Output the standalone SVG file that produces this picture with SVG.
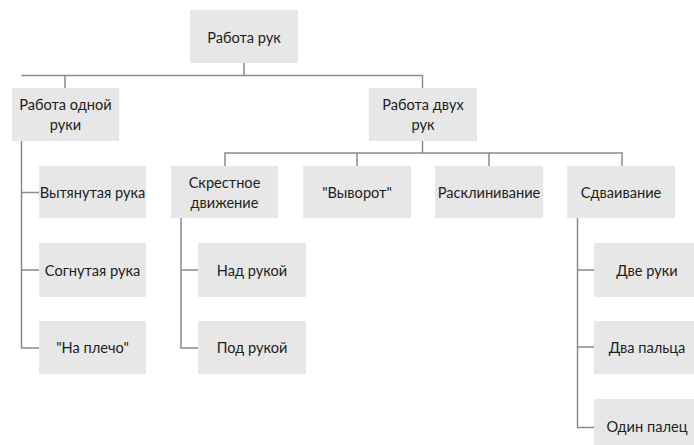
<svg xmlns="http://www.w3.org/2000/svg" width="694" height="445" viewBox="0 0 694 445">
<style>
.b{fill:#e7e7e7}
.t{font-family:Lato,"Open Sans","Liberation Sans",sans-serif;font-size:14.6px;fill:#1e1e1e;text-anchor:middle;dominant-baseline:central}
.c{fill:none;stroke:#8a8a8a;stroke-width:1.5}
</style>
<rect width="694" height="445" fill="#fff"/>
<g id="connectors" class="c">
<path d="M244 63V75.5M21.5 75.5H422.5V88M65 75.5V88"/>
<path d="M21.5 141V348H39M21.5 192.5H39M21.5 270H39"/>
<path d="M422.5 141V153M225 166V153H622V166M357 153V166M489 153V166"/>
<path d="M181 218V348H198M181 270H198"/>
<path d="M577.5 218V427.5H594M577.5 270H594M577.5 347H594"/>
</g>
<g id="n0"><rect class="b" x="190" y="10" width="108" height="53"/><text class="t" x="244" y="37">Работа рук</text></g>
<g id="n1"><rect class="b" x="12" y="88" width="107" height="53"/><text class="t" x="65.5" y="104">Работа одной</text><text class="t" x="65.5" y="124">руки</text></g>
<g id="n2"><rect class="b" x="369" y="88" width="108" height="53"/><text class="t" x="423" y="104">Работа двух</text><text class="t" x="423" y="124">рук</text></g>
<g id="n3"><rect class="b" x="39" y="166" width="107" height="52"/><text class="t" x="92.5" y="192">Вытянутая рука</text></g>
<g id="n4"><rect class="b" x="39" y="243" width="107" height="54"/><text class="t" x="92.5" y="270">Согнутая рука</text></g>
<g id="n5"><rect class="b" x="39" y="321" width="107" height="53"/><text class="t" x="92.5" y="347.5">"На плечо"</text></g>
<g id="n6"><rect class="b" x="171" y="166" width="107" height="52"/><text class="t" x="224.5" y="182">Скрестное</text><text class="t" x="224.5" y="202">движение</text></g>
<g id="n7"><rect class="b" x="303" y="166" width="108" height="52"/><text class="t" x="357" y="192">"Выворот"</text></g>
<g id="n8"><rect class="b" x="435" y="166" width="108" height="52"/><text class="t" x="489" y="192">Расклинивание</text></g>
<g id="n9"><rect class="b" x="567" y="166" width="108" height="52"/><text class="t" x="621" y="192">Сдваивание</text></g>
<g id="n10"><rect class="b" x="198" y="243" width="108" height="54"/><text class="t" x="252" y="270">Над рукой</text></g>
<g id="n11"><rect class="b" x="198" y="321" width="108" height="53"/><text class="t" x="252" y="347.5">Под рукой</text></g>
<g id="n12"><rect class="b" x="594" y="243" width="108" height="54"/><text class="t" x="647" y="270">Две руки</text></g>
<g id="n13"><rect class="b" x="594" y="321" width="108" height="53"/><text class="t" x="647" y="347.5">Два пальца</text></g>
<g id="n14"><rect class="b" x="594" y="399" width="108" height="53"/><text class="t" x="647" y="426">Один палец</text></g>
</svg>
